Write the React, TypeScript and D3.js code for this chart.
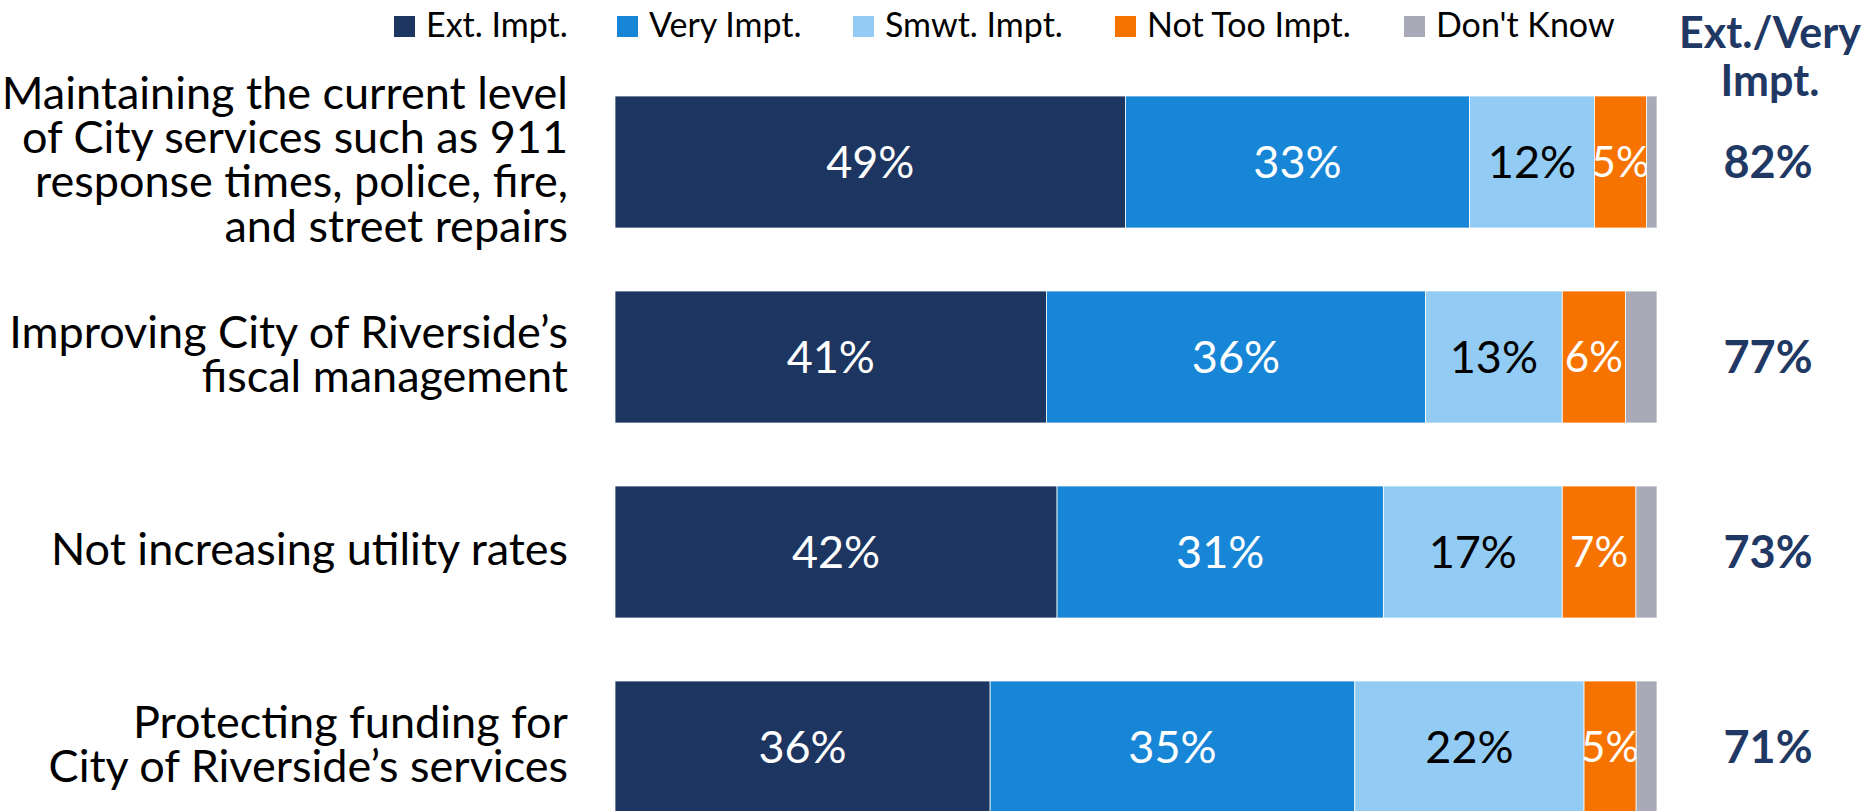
import React from "react";
import * as d3 from "d3";

const categories = [
  "Maintaining the current level\nof City services such as 911\nresponse times, police, fire,\nand street repairs",
  "Improving City of Riverside’s\nfiscal management",
  "Not increasing utility rates",
  "Protecting funding for\nCity of Riverside’s services",
];
const seriesNames = ["Ext. Impt.", "Very Impt.", "Smwt. Impt.", "Not Too Impt.", "Don't Know"];
const extImpt = [49, 41, 42, 36];
const veryImpt = [33, 36, 31, 35];
const smwtImpt = [12, 13, 17, 22];
const notTooImpt = [5, 6, 7, 5];
const dontKnow = [1, 3, 2, 2];
const extVeryTotal = [82, 77, 73, 71];
const headerLines = ["Ext./Very", "Impt."];

const colors = ["#1D3661", "#1886D7", "#92CBF3", "#F77300", "#A8AAB7"];
const labelColors = ["#ffffff", "#ffffff", "#000000", "#ffffff", null];
const NAVY = "#1F3864";
const FONT = "Lato, 'Open Sans', 'Noto Sans', sans-serif";

const W = 1868;
const H = 811;

export default function App() {
  const rows = categories.map((c, i) => ({
    cat: c,
    s0: extImpt[i],
    s1: veryImpt[i],
    s2: smwtImpt[i],
    s3: notTooImpt[i],
    s4: dontKnow[i],
  }));
  const keys = ["s0", "s1", "s2", "s3", "s4"];
  const stacked = d3.stack<any>().keys(keys).offset(d3.stackOffsetExpand)(rows);

  const x = d3.scaleLinear().domain([0, 1]).range([615, 1657]);
  const y = d3
    .scaleBand<string>()
    .domain(categories)
    .range([96, 813])
    .paddingInner(63 / 195)
    .paddingOuter(0);
  const bw = y.bandwidth();

  const legendX = [394, 617, 853, 1115, 1404];

  return (
    <svg
      width={W}
      height={H}
      style={{ position: "absolute", left: 0, top: 0, background: "#fff" }}
      fontFamily={FONT}
    >
      {/* legend */}
      {seriesNames.map((n, i) => (
        <g key={n}>
          <rect x={legendX[i]} y={16} width={21} height={21} fill={colors[i]} />
          <text x={legendX[i] + 32} y={37} fontSize={34} fill="#000">
            {n}
          </text>
        </g>
      ))}

      {/* header */}
      {headerLines.map((t, i) => (
        <text
          key={t}
          x={1770}
          y={48 + i * 48}
          fontSize={43}
          fontWeight="bold"
          fill={NAVY}
          textAnchor="middle"
        >
          {t}
        </text>
      ))}

      {/* bars */}
      {stacked.map((layer, si) => (
        <g key={layer.key}>
          {layer.map((d, ci) => {
            const cat = categories[ci];
            const x0 = x(d[0]);
            const x1 = x(d[1]);
            const v = (rows[ci] as any)[layer.key];
            return (
              <g key={cat}>
                <rect
                  x={x0}
                  y={y(cat)}
                  width={x1 - x0}
                  height={bw}
                  fill={colors[si]}
                  stroke="#ffffff"
                  strokeWidth={0.75}
                />
                {labelColors[si] && (
                  <text
                    x={(x0 + x1) / 2}
                    y={(y(cat) as number) + bw / 2}
                    dy="0.36em"
                    textAnchor="middle"
                    fontSize={si === 3 ? 42 : 45}
                    fill={labelColors[si] as string}
                  >
                    {v}%
                  </text>
                )}
              </g>
            );
          })}
        </g>
      ))}

      {/* category labels */}
      {categories.map((c) => {
        const lines = c.split("\n");
        const cy = (y(c) as number) + bw / 2 - 3;
        return (
          <text key={c} textAnchor="end" fontSize={45} fill="#000">
            {lines.map((l, li) => (
              <tspan
                key={li}
                x={568}
                y={cy + (li - (lines.length - 1) / 2) * 44.3}
                dy="0.36em"
              >
                {l}
              </tspan>
            ))}
          </text>
        );
      })}

      {/* Ext./Very totals */}
      {categories.map((c, i) => (
        <text
          key={c}
          x={1768}
          y={(y(c) as number) + bw / 2}
          dy="0.36em"
          textAnchor="middle"
          fontSize={45}
          fontWeight="bold"
          fill={NAVY}
        >
          {extVeryTotal[i]}%
        </text>
      ))}
    </svg>
  );
}
